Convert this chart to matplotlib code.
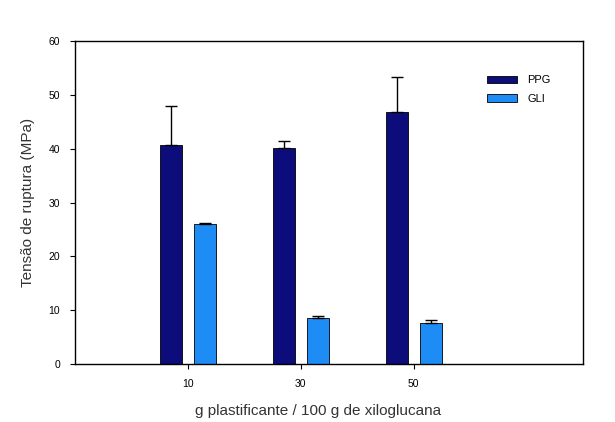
import matplotlib
matplotlib.use("Agg")
import matplotlib.pyplot as plt
import numpy as np

plt.rcParams['font.family'] = ['Liberation Sans', 'DejaVu Sans']

categories = [10, 30, 50]
ppg_values = [40.7, 40.2, 46.8]
ppg_errors = [7.3, 1.3, 6.6]
gli_values = [26.0, 8.6, 7.7]
gli_errors = [0.2, 0.3, 0.4]
series_labels = ["PPG", "GLI"]
yticks = [0, 10, 20, 30, 40, 50, 60]

fig = plt.figure(figsize=(6.15, 4.22), dpi=100)
ax = fig.add_axes([0.122, 0.1374, 0.826, 0.7654])

x = np.array(categories, dtype=float)
w = 3.9
off = 3.0
ax.bar(x - off, ppg_values, width=w, color="#0c0c7a", edgecolor="black", linewidth=0.6,
       yerr=[np.zeros(3), ppg_errors], capsize=4,
       error_kw=dict(elinewidth=1.0, capthick=1.0, ecolor="black"), label=series_labels[0])
ax.bar(x + off, gli_values, width=w, color="#1e8cf5", edgecolor="black", linewidth=0.6,
       yerr=[np.zeros(3), gli_errors], capsize=4,
       error_kw=dict(elinewidth=1.0, capthick=1.0, ecolor="black"), label=series_labels[1])

ax.set_xlim(-10, 80)
ax.set_ylim(0, 60)
ax.set_xticks(categories)
ax.set_xticklabels([str(c) for c in categories])
ax.set_yticks(yticks)
ax.tick_params(direction="out", length=3.6, width=0.8, labelsize=7.5, colors="black", pad=7)
for s in ax.spines.values():
    s.set_linewidth(1.0)

ax.set_ylabel("Tensão de ruptura (MPa)", fontsize=11, color="#333333")
ax.set_xlabel("g plastificante / 100 g de xiloglucana", fontsize=11, color="#333333")
ax.yaxis.set_label_coords((35 - 75) / 508, 0.5)
ax.xaxis.set_label_coords((318 - 75) / 508, -(404 - 364) / 323)

leg = ax.legend(loc="upper left", bbox_to_anchor=((484 - 75) / 508, 1 - (72 - 41) / 323),
                frameon=False, fontsize=8,
                handlelength=2.7, handleheight=0.7, labelspacing=0.8, handletextpad=0.9,
                borderaxespad=0, borderpad=0.3)

fig.savefig("out.png", dpi=100)
